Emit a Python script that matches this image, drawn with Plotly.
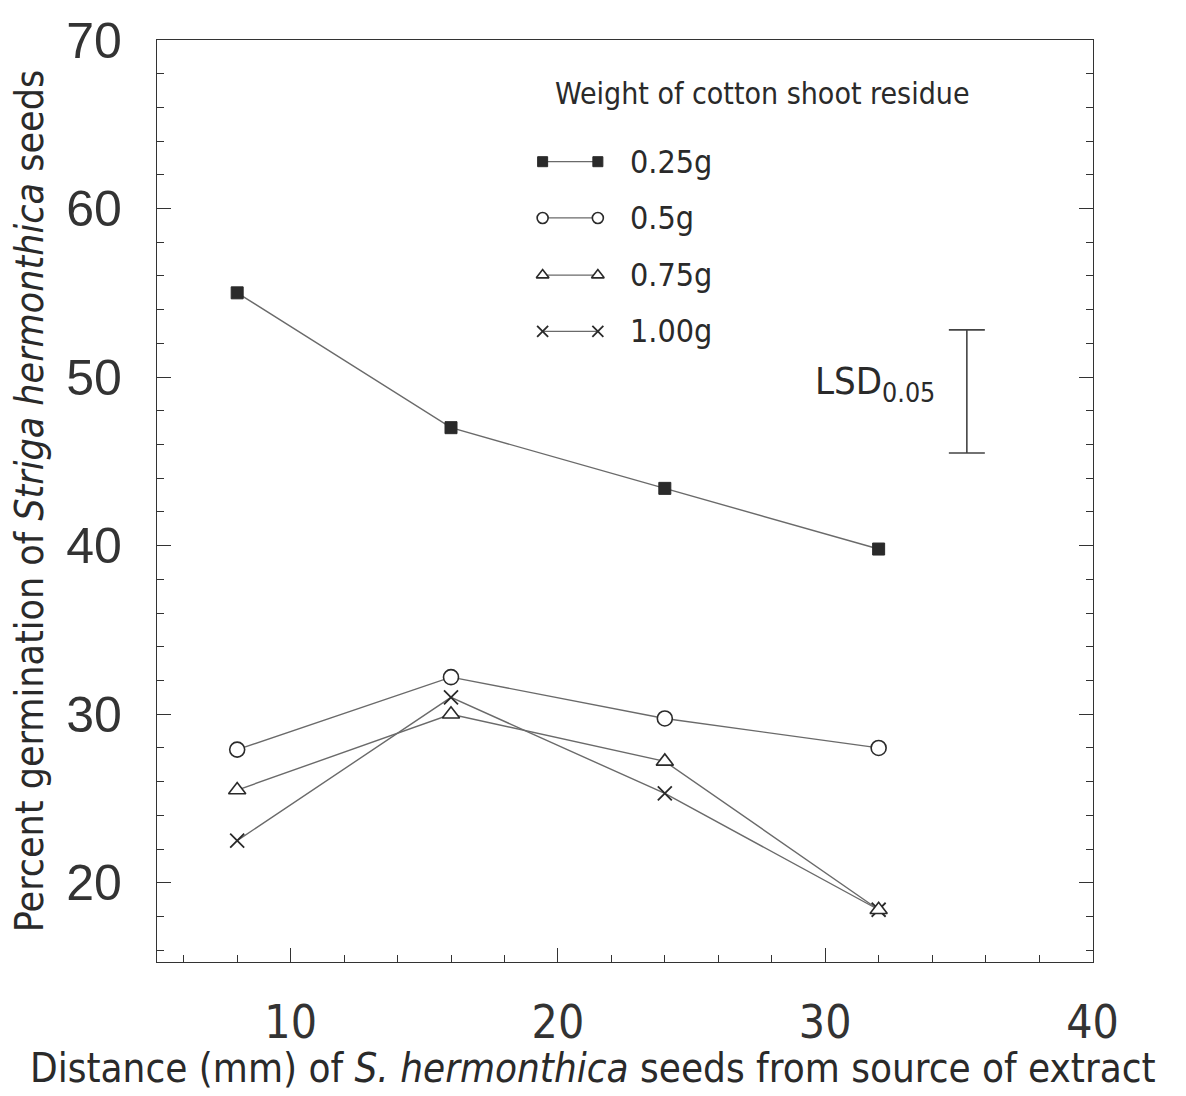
import plotly.graph_objects as go

# Distance of seeds from the extract source (mm)
distance_mm = [8, 16, 24, 32]

# Percent germination for each weight of cotton shoot residue
germ_025g = [55.0, 47.0, 43.4, 39.8]
germ_050g = [27.9, 32.2, 29.75, 28.0]
germ_075g = [25.5, 30.0, 27.2, 18.4]
germ_100g = [22.5, 31.0, 25.3, 18.4]

series_names = ["0.25g", "0.5g", "0.75g", "1.00g"]

# Least significant difference bar (P = 0.05)
lsd_x = 35.3
lsd_center = 49.15
lsd_value = 7.3

LINE = "#6a6a6a"
INK = "#2a2a2a"
NARROW = "DejaVu Sans Condensed, Liberation Sans Narrow, Arial Narrow, sans-serif"
PLAIN = "Liberation Sans, Arial, sans-serif"

marker_styles = [
    dict(symbol="square", size=12, color=INK, line=dict(color=INK, width=1)),
    dict(symbol="circle", size=15, color="white", line=dict(color=INK, width=1.6)),
    dict(symbol="triangle-up", size=15, color="white", line=dict(color=INK, width=1.6)),
    dict(symbol="x-thin", size=14, color=INK, line=dict(color=INK, width=1.8)),
]
all_series = [germ_025g, germ_050g, germ_075g, germ_100g]

fig = go.Figure()

# Draw the lower series first so the filled squares sit on top
for name, ys, mk in zip(series_names[::-1], all_series[::-1], marker_styles[::-1]):
    fig.add_trace(go.Scatter(
        x=distance_mm, y=ys, mode="lines+markers", name=name,
        line=dict(color=LINE, width=1.4),
        marker=mk, showlegend=False,
    ))

# LSD bar
fig.add_trace(go.Scatter(
    x=[lsd_x], y=[lsd_center], mode="markers",
    marker=dict(size=1, color="rgba(0,0,0,0)"),
    error_y=dict(type="constant", value=lsd_value / 2, color="#444444",
                 thickness=1.6, width=18),
    showlegend=False, hoverinfo="skip",
))

# Key samples drawn on an overlay axis spanning the plot area (0..1)
key_x = [0.412, 0.471]
key_y = [0.868, 0.807, 0.745, 0.684]
key_sizes = [10, 11, 11, 11]
for ky, mk, sz in zip(key_y, marker_styles, key_sizes):
    m = dict(mk)
    m["size"] = sz
    fig.add_trace(go.Scatter(
        x=key_x, y=[ky, ky], mode="lines+markers",
        line=dict(color=LINE, width=1.2), marker=m,
        xaxis="x2", yaxis="y2", showlegend=False, hoverinfo="skip",
    ))

annotations = [
    dict(text="Weight of cotton shoot residue", x=0.647, y=0.942,
         xref="x2", yref="y2", showarrow=False,
         font=dict(family=NARROW, size=30, color=INK)),
]
for ky, name in zip(key_y, series_names):
    annotations.append(dict(
        text=name, x=0.503, y=ky, xref="x2", yref="y2", xanchor="left",
        showarrow=False, font=dict(family=NARROW, size=32, color=INK)))
annotations.append(dict(
    text="LSD<sub>0.05</sub>", x=34.2, y=49.6, xref="x", yref="y",
    xanchor="right", showarrow=False,
    font=dict(family=NARROW, size=38, color=INK)))
# X-axis title, centred on the page rather than on the plot area
annotations.append(dict(
    text="Distance (mm) of <i>S. hermonthica</i> seeds from source of extract",
    x=0.466, y=-0.115, xref="paper", yref="paper", xanchor="center", yanchor="middle",
    showarrow=False, font=dict(family=NARROW, size=40, color=INK)))

fig.update_layout(
    width=1186, height=1096,
    margin=dict(l=157, r=93, t=36, b=134),
    paper_bgcolor="white", plot_bgcolor="white",
    annotations=annotations,
    xaxis=dict(
        range=[5, 40.02], tickmode="linear", tick0=0, dtick=10,
        ticks="inside", ticklen=14, tickwidth=1.3, tickcolor="#333",
        minor=dict(dtick=2, ticks="inside", ticklen=7, tickwidth=1.1, tickcolor="#333"),
        showline=True, linecolor="#333", linewidth=1.4, mirror=True,
        showgrid=False, zeroline=False,
        tickfont=dict(family=NARROW, size=46, color="#333"),
        ticklabelstandoff=20,
    ),
    yaxis=dict(
        range=[15.3, 70], tickmode="linear", tick0=0, dtick=10,
        ticks="inside", ticklen=14, tickwidth=1.3, tickcolor="#333",
        minor=dict(dtick=2, ticks="inside", ticklen=7, tickwidth=1.1, tickcolor="#333"),
        showline=True, linecolor="#333", linewidth=1.4, mirror="ticks",
        showgrid=False, zeroline=False,
        tickfont=dict(family=PLAIN, size=50, color="#333"),
        ticklabelstandoff=24,
        title=dict(text="Percent germination of <i>Striga hermonthica</i> seeds",
                   font=dict(family=NARROW, size=39, color=INK), standoff=10),
    ),
    xaxis2=dict(range=[0, 1], overlaying="x", visible=False, fixedrange=True),
    yaxis2=dict(range=[0, 1], overlaying="y", visible=False, fixedrange=True),
)

fig.write_html("out.html")
